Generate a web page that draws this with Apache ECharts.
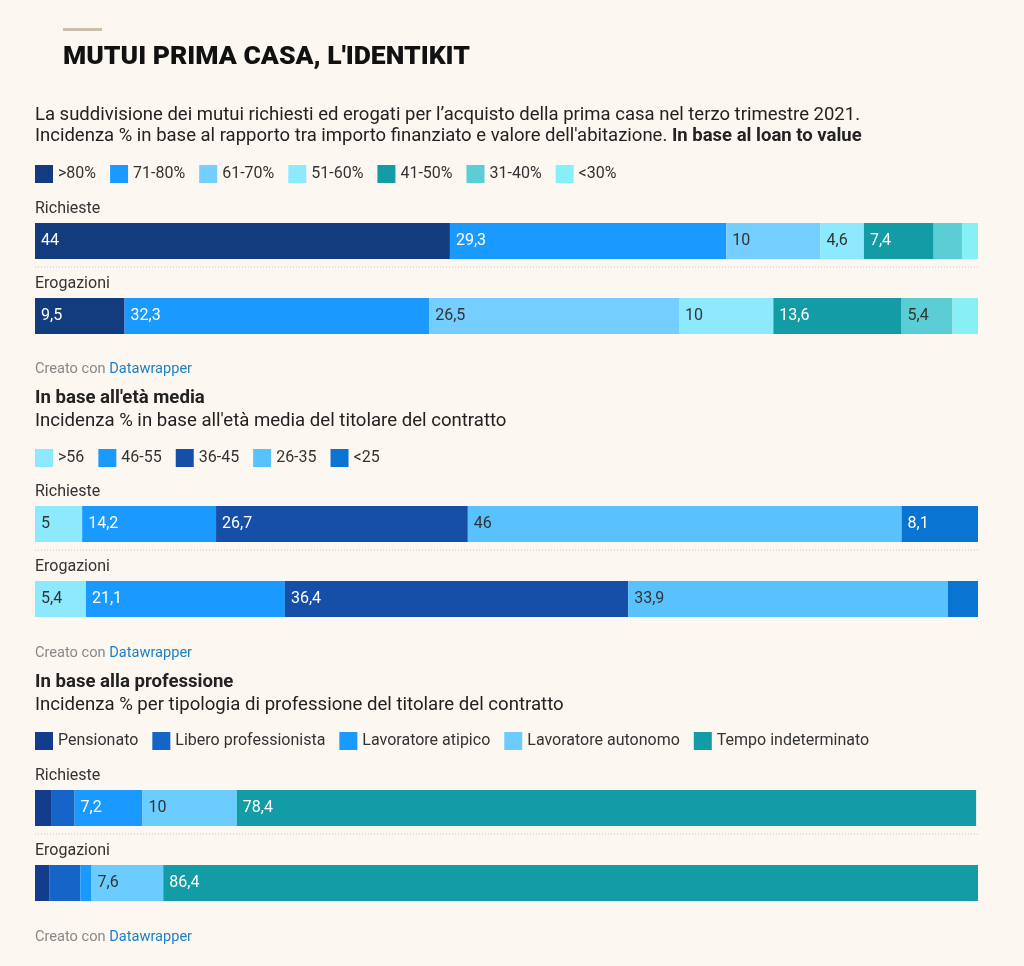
<!DOCTYPE html>
<html>
<head>
<meta charset="utf-8">
<script src="https://cdn.jsdelivr.net/npm/echarts@6/dist/echarts.min.js"></script>
<style>
  html, body { margin: 0; padding: 0; background: #fdf7f1; }
  #main { width: 1024px; height: 966px; }
</style>
</head>
<body>
<div id="main"></div>
<script>
// righe delle barre
var rows = ['Richieste', 'Erogazioni'];

// loan to value
var ltvNames = ['>80%', '71-80%', '61-70%', '51-60%', '41-50%', '31-40%', '<30%'];
var ltvRichieste = [44, 29.3, 10, 4.6, 7.4, 3.0, 1.7];
var ltvErogazioni = [9.5, 32.3, 26.5, 10, 13.6, 5.4, 2.7];

// età media
var etaNames = ['>56', '46-55', '36-45', '26-35', '<25'];
var etaRichieste = [5, 14.2, 26.7, 46, 8.1];
var etaErogazioni = [5.4, 21.1, 36.4, 33.9, 3.2];

// professione
var profNames = ['Pensionato', 'Libero professionista', 'Lavoratore atipico', 'Lavoratore autonomo', 'Tempo indeterminato'];
var profRichieste = [1.7, 2.5, 7.2, 10, 78.4];
var profErogazioni = [1.5, 3.3, 1.2, 7.6, 86.4];

// colori
var ltvColors = ['#133c7f', '#1a9afe', '#74ceff', '#8de9fe', '#149ca6', '#5acdd5', '#86f0f6'];
var ltvText = ['#fff', '#fff', '#333', '#333', '#fff', '#333', '#333'];
var etaColors = ['#8de9fe', '#1a9afe', '#164fa8', '#5ac1ff', '#0a74d3'];
var etaText = ['#333', '#fff', '#fff', '#333', '#fff'];
var profColors = ['#133c8c', '#1565c8', '#1a9afe', '#6bcdff', '#149ca6'];
var profText = ['#fff', '#fff', '#fff', '#333', '#fff'];

var FONT = 'Roboto';
var sections = [
  { names: ltvNames, ric: ltvRichieste, ero: ltvErogazioni, colors: ltvColors, text: ltvText, top: 203.5, legendTop: 165, footTop: 361 },
  { names: etaNames, ric: etaRichieste, ero: etaErogazioni, colors: etaColors, text: etaText, top: 486.5, legendTop: 449, footTop: 645 },
  { names: profNames, ric: profRichieste, ero: profErogazioni, colors: profColors, text: profText, top: 770.5, legendTop: 732, footTop: 929 }
];

var chart = echarts.init(document.getElementById('main'), null, { renderer: 'canvas' });

var grids = [], xAxes = [], yAxes = [], legends = [], series = [], graphics = [];
var titles = [];

var richText = {
  n: { fontSize: 18.5, fontFamily: FONT, color: '#222', lineHeight: 21.5, fontWeight: 'normal' },
  b: { fontSize: 18.5, fontFamily: FONT, color: '#222', lineHeight: 21.5, fontWeight: 'bold' }
};
var richHead = {
  n: { fontSize: 18.6, fontFamily: FONT, color: '#222', lineHeight: 23, fontWeight: 'normal' },
  b: { fontSize: 18.6, fontFamily: FONT, color: '#222', lineHeight: 23, fontWeight: 'bold' }
};
var richFoot = {
  g: { fontSize: 14.6, fontFamily: FONT, color: '#888', lineHeight: 16, fontWeight: 'normal' },
  d: { fontSize: 14.6, fontFamily: FONT, color: '#1d81c4', lineHeight: 16, fontWeight: 'normal' }
};

titles.push({
  text: "MUTUI PRIMA CASA, L'IDENTIKIT",
  left: 63, top: 44, padding: 0,
  textStyle: { fontSize: 26.5, fontWeight: 900, fontFamily: FONT, color: '#111', lineHeight: 26 }
});
titles.push({
  text: '{n|La suddivisione dei mutui richiesti ed erogati per l\u2019acquisto della prima casa nel terzo trimestre 2021.}\n' +
        '{n|Incidenza % in base al rapporto tra importo finanziato e valore dell\'abitazione. }{b|In base al loan to value}',
  left: 35, top: 104.5, padding: 0,
  textStyle: { rich: richText }
});
titles.push({
  text: '{b|In base all\'età media}\n{n|Incidenza % in base all\'età media del titolare del contratto}',
  left: 35, top: 386.5, padding: 0,
  textStyle: { rich: richHead }
});
titles.push({
  text: '{b|In base alla professione}\n{n|Incidenza % per tipologia di professione del titolare del contratto}',
  left: 35, top: 670.5, padding: 0,
  textStyle: { rich: richHead }
});

// linea decorativa sopra il titolo
graphics.push({
  type: 'rect', left: 63, top: 28, silent: true,
  shape: { width: 39, height: 3 },
  style: { fill: '#cdbfae' }
});

sections.forEach(function (s, k) {
  grids.push({ left: 35, width: 943, top: s.top, height: 150 });
  xAxes.push({ type: 'value', gridIndex: k, min: 0, max: 100, show: false });
  yAxes.push({
    type: 'category', gridIndex: k, inverse: true, data: rows,
    axisLine: { show: false }, axisTick: { show: false }, splitLine: { show: false },
    axisLabel: {
      inside: true, margin: 0, verticalAlign: 'bottom', padding: [0, 0, 24, 0],
      fontSize: 16, fontFamily: FONT, color: '#333'
    }
  });
  legends.push({
    data: s.names, left: 35, top: s.legendTop, padding: 0,
    icon: 'rect', itemWidth: 18, itemHeight: 18, itemGap: 14,
    selectedMode: false,
    textStyle: { fontSize: 16, fontFamily: FONT, color: '#333' }
  });
  s.names.forEach(function (name, i) {
    series.push({
      name: name, type: 'bar', stack: 'sez' + k,
      xAxisIndex: k, yAxisIndex: k,
      barWidth: 36,
      data: [s.ric[i], s.ero[i]],
      itemStyle: { color: s.colors[i] },
      label: {
        show: true, position: 'insideLeft', distance: 6,
        fontSize: 16, fontFamily: FONT, color: s.text[i],
        formatter: function (p) {
          return p.value < 4 ? '' : String(p.value).replace('.', ',');
        }
      },
      emphasis: { disabled: true }
    });
  });
  // separatore tratteggiato tra le due righe
  var sepY = s.top + 63.5;
  graphics.push({
    type: 'line', silent: true,
    shape: { x1: 35, y1: sepY, x2: 978, y2: sepY },
    style: { stroke: '#c8c4c0', lineWidth: 1, lineDash: [1, 2] }
  });
  titles.push({
    text: '{g|Creato con }{d|Datawrapper}',
    left: 35, top: s.footTop, padding: 0,
    textStyle: { rich: richFoot }
  });
});

var option = {
  backgroundColor: '#fdf7f1',
  animation: false,
  title: titles,
  legend: legends,
  grid: grids,
  xAxis: xAxes,
  yAxis: yAxes,
  series: series,
  graphic: graphics
};
chart.setOption(option);
</script>
</body>
</html>
